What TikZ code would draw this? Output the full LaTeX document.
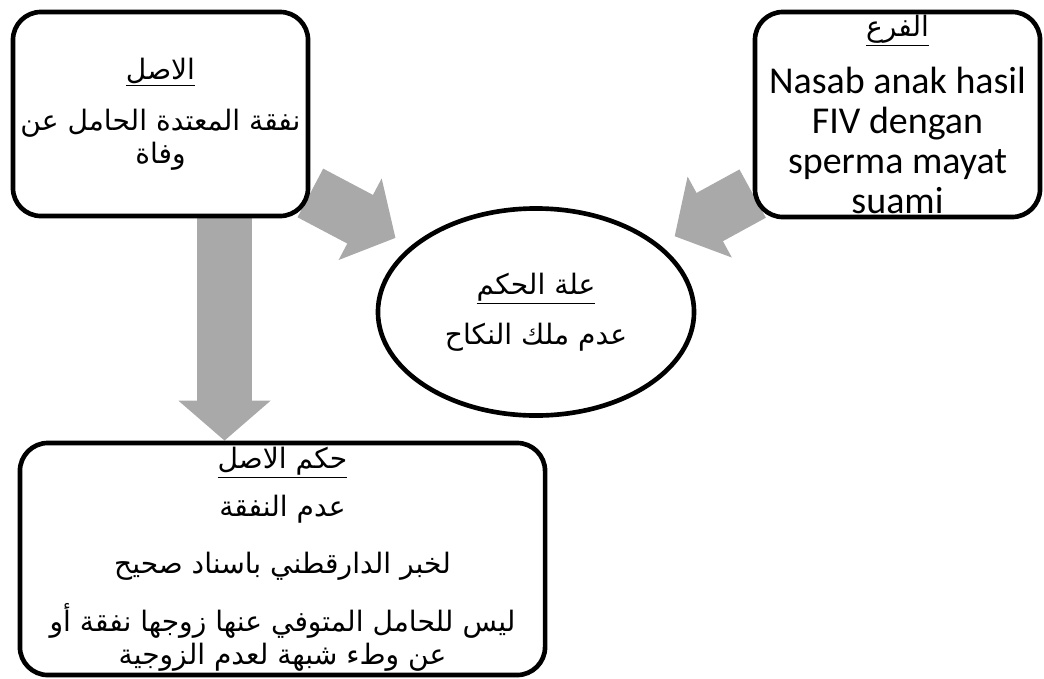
\documentclass[tikz,border=0pt]{standalone}
\usepackage{fontspec}
\setmainfont{Carlito}
\newfontfamily\arabicfont[Script=Arabic]{DejaVu Sans}
\TeXXeTstate=1
\usepackage{tikz}
\usetikzlibrary{arrows.meta,shapes.geometric,backgrounds}
\definecolor{arrowgray}{RGB}{169,169,169}

\begin{document}
\begin{tikzpicture}[x=0.025cm, y=-0.025cm]
\tikzstyle{box} = [draw, line width=3.3pt, rounded corners=0.7cm, fill=white, align=center, inner sep=0pt]
\tikzstyle{arabic} = [font={\arabicfont\fontsize{20}{23.5}\selectfont}]
\tikzstyle{blockarrow} = [draw=arrowgray, line width=1.375cm, -{Triangle[length=1cm,width=2.25cm]}]
\useasboundingbox (0,0) rectangle (1044,678);
\node[box, arabic, minimum width=7.375cm, minimum height=5.1cm] (asl) at (160.5,114)
    {\underline{\beginR الاصل\endR}\\[13pt]
     \beginR نفقة المعتدة الحامل عن\endR\\
     \beginR وفاة\endR};
\node[box, minimum width=7.125cm, minimum height=5.125cm,
      font={\fontsize{27}{28.4}\selectfont}] (far) at (897.5,114.5)
    {{\arabicfont\fontsize{20}{23.5}\selectfont\underline{\beginR الفرع\endR}}\\[12pt]
     Nasab anak hasil\\
     FIV dengan\\
     sperma mayat\\
     suami};
\node[draw, ellipse, line width=3.3pt, fill=white, align=center, inner sep=0pt, arabic,
      minimum width=7.9cm, minimum height=5.175cm] (illa) at (536,312)
    {\underline{\beginR علة الحكم\endR}\\[12pt]
     \beginR عدم ملك النكاح\endR};
\node[box, arabic, minimum width=13.125cm, minimum height=5.8cm] (hukm) at (282.5,559)
    {\underline{\beginR حكم الاصل\endR}\\[10.5pt]
     \beginR عدم النفقة\endR\\[17.5pt]
     \beginR لخبر الدارقطني باسناد صحيح\endR\\[15pt]
     \beginR ليس للحامل المتوفي عنها زوجها نفقة أو\endR\\
     \beginR عن وطء شبهة لعدم الزوجية\endR};
% grey block arrows
\begin{scope}[on background layer]
\draw[blockarrow, shorten >=0.43cm] (asl) -- (illa);
\draw[blockarrow, shorten >=0.43cm] (far) -- (illa);
\draw[blockarrow] ([xshift=1.6cm]asl.south) -- ([xshift=1.6cm]asl.south |- hukm.north);
\end{scope}
\end{tikzpicture}
\end{document}
